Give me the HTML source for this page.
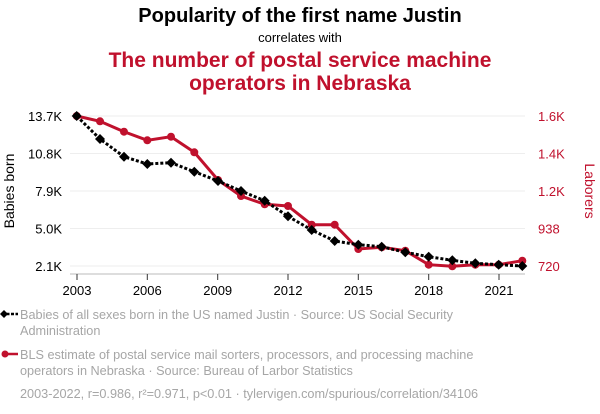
<!DOCTYPE html>
<html><head><meta charset="utf-8"><style>
body{margin:0;background:#fff;}
svg{display:block;font-family:"Liberation Sans",Arial,sans-serif;}
</style></head><body>
<svg width="600" height="414" viewBox="0 0 600 414" xmlns="http://www.w3.org/2000/svg">
<rect width="600" height="414" fill="#fff"/>
<text x="300" y="22" text-anchor="middle" font-size="20" font-weight="bold" fill="#000">Popularity of the first name Justin</text>
<text x="300" y="42" text-anchor="middle" font-size="13" fill="#000">correlates with</text>
<text x="300" y="67" text-anchor="middle" font-size="21" font-weight="bold" fill="#c0112d">The number of postal service machine</text>
<text x="300" y="90" text-anchor="middle" font-size="21" font-weight="bold" fill="#c0112d">operators in Nebraska</text>
<g stroke="#eeeeee" stroke-width="1">
<line x1="70" x2="525" y1="116" y2="116"/><line x1="70" x2="525" y1="153.5" y2="153.5"/><line x1="70" x2="525" y1="191" y2="191"/><line x1="70" x2="525" y1="228.5" y2="228.5"/><line x1="70" x2="525" y1="266" y2="266"/>
</g>
<line x1="70" x2="525" y1="274" y2="274" stroke="#bbb"/>
<g stroke="#333" stroke-width="1">
<line x1="77" x2="77" y1="274" y2="280"/><line x1="147.3" x2="147.3" y1="274" y2="280"/><line x1="217.7" x2="217.7" y1="274" y2="280"/><line x1="288" x2="288" y1="274" y2="280"/><line x1="358.3" x2="358.3" y1="274" y2="280"/><line x1="428.7" x2="428.7" y1="274" y2="280"/><line x1="499" x2="499" y1="274" y2="280"/>
</g>
<g font-size="13" fill="#000" text-anchor="middle">
<text x="77" y="295">2003</text><text x="147.3" y="295">2006</text><text x="217.7" y="295">2009</text><text x="288" y="295">2012</text><text x="358.3" y="295">2015</text><text x="428.7" y="295">2018</text><text x="499" y="295">2021</text>
</g>
<g font-size="13" fill="#000" text-anchor="end">
<text x="62" y="121">13.7K</text><text x="62" y="158.5">10.8K</text><text x="62" y="196">7.9K</text><text x="62" y="233.5">5.0K</text><text x="62" y="271">2.1K</text>
</g>
<g font-size="13" fill="#c0112d" text-anchor="start">
<text x="538" y="121">1.6K</text><text x="538" y="158.5">1.4K</text><text x="538" y="196">1.2K</text><text x="538" y="233.5">938</text><text x="538" y="271">720</text>
</g>
<text transform="translate(14,191) rotate(-90)" text-anchor="middle" font-size="14" fill="#000">Babies born</text>
<text transform="translate(585,191) rotate(90)" text-anchor="middle" font-size="14" fill="#c0112d">Laborers</text>
<polyline fill="none" stroke="#c0112d" stroke-width="3" points="76.7,116 100,121.3 124,131.7 147.3,140.3 171,136.7 194.3,152.3 218,180 241,196 264.7,204.3 288,206 311.7,224.7 334.7,224.7 358.3,249 381.7,247.3 405.3,250.7 428.7,264.7 452.3,266.3 475.3,264.7 498.7,264.7 522.3,260.7"/>
<g fill="#c0112d">
<circle cx="76.7" cy="116" r="4"/><circle cx="100" cy="121.3" r="4"/><circle cx="124" cy="131.7" r="4"/><circle cx="147.3" cy="140.3" r="4"/><circle cx="171" cy="136.7" r="4"/><circle cx="194.3" cy="152.3" r="4"/><circle cx="218" cy="180" r="4"/><circle cx="241" cy="196" r="4"/><circle cx="264.7" cy="204.3" r="4"/><circle cx="288" cy="206" r="4"/><circle cx="311.7" cy="224.7" r="4"/><circle cx="334.7" cy="224.7" r="4"/><circle cx="358.3" cy="249" r="4"/><circle cx="381.7" cy="247.3" r="4"/><circle cx="405.3" cy="250.7" r="4"/><circle cx="428.7" cy="264.7" r="4"/><circle cx="452.3" cy="266.3" r="4"/><circle cx="475.3" cy="264.7" r="4"/><circle cx="498.7" cy="264.7" r="4"/><circle cx="522.3" cy="260.7" r="4"/>
</g>
<polyline fill="none" stroke="#000" stroke-width="3" stroke-dasharray="3,2" points="76.7,116 100,139 124,156.7 147.3,164 171,162.7 194.3,171.7 218,181 241,191 264.7,200.7 288,216.3 311.7,230 334.7,241 358.3,244.7 381.7,246.7 405.3,252.3 428.7,256.7 452.3,260.3 475.3,263.3 498.7,264.7 522.3,266"/>
<g fill="#000">
<path d="M76.7 111l5 5-5 5-5-5z"/><path d="M100 134l5 5-5 5-5-5z"/><path d="M124 151.7l5 5-5 5-5-5z"/><path d="M147.3 159l5 5-5 5-5-5z"/><path d="M171 157.7l5 5-5 5-5-5z"/><path d="M194.3 166.7l5 5-5 5-5-5z"/><path d="M218 176l5 5-5 5-5-5z"/><path d="M241 186l5 5-5 5-5-5z"/><path d="M264.7 195.7l5 5-5 5-5-5z"/><path d="M288 211.3l5 5-5 5-5-5z"/><path d="M311.7 225l5 5-5 5-5-5z"/><path d="M334.7 236l5 5-5 5-5-5z"/><path d="M358.3 239.7l5 5-5 5-5-5z"/><path d="M381.7 241.7l5 5-5 5-5-5z"/><path d="M405.3 247.3l5 5-5 5-5-5z"/><path d="M428.7 251.7l5 5-5 5-5-5z"/><path d="M452.3 255.3l5 5-5 5-5-5z"/><path d="M475.3 258.3l5 5-5 5-5-5z"/><path d="M498.7 259.7l5 5-5 5-5-5z"/><path d="M522.3 261l5 5-5 5-5-5z"/>
</g>
<line x1="2" x2="18" y1="314" y2="314" stroke="#000" stroke-width="2.5" stroke-dasharray="3,1.5"/>
<path d="M4 310l4 4-4 4-4-4z" fill="#000"/>
<line x1="2" x2="18" y1="354" y2="354" stroke="#c0112d" stroke-width="2.5"/>
<circle cx="5" cy="354" r="3.5" fill="#c0112d"/>
<g font-size="12.7" fill="#a6a6a6">
<text x="20" y="319">Babies of all sexes born in the US named Justin · Source: US Social Security</text>
<text x="20" y="335">Administration</text>
<text x="20" y="359">BLS estimate of postal service mail sorters, processors, and processing machine</text>
<text x="20" y="375">operators in Nebraska · Source: Bureau of Larbor Statistics</text>
<text x="20" y="398">2003-2022, r=0.986, r²=0.971, p&lt;0.01 · tylervigen.com/spurious/correlation/34106</text>
</g>
</svg>
</body></html>
